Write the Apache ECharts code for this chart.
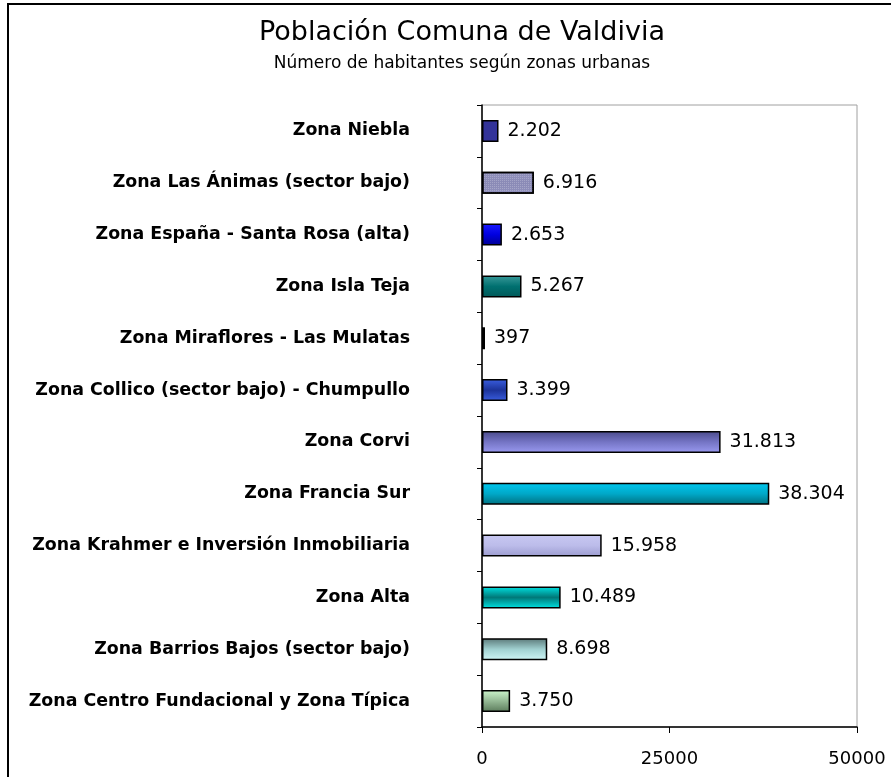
<!DOCTYPE html>
<html>
<head>
<meta charset="utf-8">
<script src="https://cdn.jsdelivr.net/npm/echarts@6/dist/echarts.min.js"></script>
<style>
  html, body { margin: 0; padding: 0; background: #fff; }
  #chart { width: 891px; height: 777px; }
</style>
</head>
<body>
<div id="chart"></div>
<script>
var zonas = [
  "Zona Niebla",
  "Zona Las Ánimas (sector bajo)",
  "Zona España - Santa Rosa (alta)",
  "Zona Isla Teja",
  "Zona Miraflores - Las Mulatas",
  "Zona Collico (sector bajo) - Chumpullo",
  "Zona Corvi",
  "Zona Francia Sur",
  "Zona Krahmer e Inversión Inmobiliaria",
  "Zona Alta",
  "Zona Barrios Bajos (sector bajo)",
  "Zona Centro Fundacional y Zona Típica"
];
var habitantes = [2202, 6916, 2653, 5267, 397, 3399, 31813, 38304, 15958, 10489, 8698, 3750];
var xTicks = [0, 25000, 50000];

// colores de cada barra: [arriba, medio, abajo]
var colores = [
  ["#333399", "#333399", "#333399"],
  ["#9090bc", "#8a8ab6", "#9090bc"],
  ["#1a1aff", "#0000e0", "#000090"],
  ["#3a9a9a", "#007070", "#005858"],
  ["#1a3a80", "#00205a", "#1a3a80"],
  ["#3a5ee0", "#1c3399", "#3a5ee0"],
  ["#4a4a8a", "#7474c4", "#9a9af0"],
  ["#00c8f0", "#00a8c8", "#007080"],
  ["#c8c8f2", "#bcbcea", "#9c9cd0"],
  ["#00e4e4", "#007878", "#00e4e4"],
  ["#5a7878", "#a0d0d0", "#d0f6f6"],
  ["#ccf5cc", "#94b894", "#5a7a5a"]
];

function fmt(v) {
  return String(v).replace(/\B(?=(\d{3})+(?!\d))/g, ".");
}

var barData = habitantes.map(function (v, i) {
  var c = colores[i];
  var item = {
    value: v,
    itemStyle: {
      color: new echarts.graphic.LinearGradient(0, 0, 0, 1, [
        { offset: 0, color: c[0] },
        { offset: 0.5, color: c[1] },
        { offset: 1, color: c[2] }
      ])
    }
  };
  // la barra de Las Ánimas lleva trama punteada
  if (i === 1) {
    item.itemStyle.decal = {
      symbol: "rect",
      symbolSize: 1,
      dashArrayX: [1, 1],
      dashArrayY: [1, 1],
      color: "rgba(255,255,255,0.22)"
    };
  }
  return item;
});

var myChart = echarts.init(document.getElementById("chart"), null, { renderer: "canvas" });
var option = {
  backgroundColor: "#fff",
  animation: false,
  title: {
    text: "Población Comuna de Valdivia",
    subtext: "Número de habitantes según zonas urbanas",
    left: 457,
    textAlign: "center",
    top: 14,
    itemGap: 9,
    textStyle: {
      fontFamily: "DejaVu Sans",
      fontSize: 27,
      fontWeight: "normal",
      color: "#000"
    },
    subtextStyle: {
      fontFamily: "DejaVu Sans",
      fontSize: 17,
      color: "#000"
    }
  },
  graphic: [
    {
      type: "rect",
      shape: { x: 8, y: 4, width: 900, height: 800 },
      style: { fill: "none", stroke: "#000", lineWidth: 2 }
    }
  ],
  grid: {
    left: 482,
    top: 105,
    right: 34,
    bottom: 50,
    show: true,
    borderColor: "#a0a0a0",
    borderWidth: 1
  },
  xAxis: {
    type: "value",
    min: 0,
    max: 50000,
    interval: 25000,
    splitLine: { show: false },
    axisLine: { show: true, lineStyle: { color: "#000", width: 1.5 } },
    axisTick: { show: true, length: 6, lineStyle: { color: "#000" } },
    axisLabel: {
      margin: 23,
      fontFamily: "DejaVu Sans",
      fontSize: 18,
      color: "#000",
      customValues: xTicks,
      formatter: function (v) { return String(v); }
    }
  },
  yAxis: {
    type: "category",
    data: zonas,
    inverse: true,
    axisLine: { show: true, lineStyle: { color: "#000", width: 1.5 } },
    axisTick: { show: true, length: 5, lineStyle: { color: "#000" } },
    axisLabel: {
      margin: 72,
      fontFamily: "DejaVu Sans",
      fontSize: 17.4,
      fontWeight: "bold",
      color: "#000"
    }
  },
  series: [
    {
      name: "Habitantes",
      type: "bar",
      data: barData,
      barWidth: 22,
      itemStyle: { borderColor: "#000", borderWidth: 1.5 },
      label: {
        show: true,
        position: "right",
        distance: 9,
        fontFamily: "DejaVu Sans",
        fontSize: 19,
        color: "#000",
        formatter: function (p) { return fmt(p.value); }
      }
    }
  ]
};
myChart.setOption(option);
</script>
</body>
</html>
